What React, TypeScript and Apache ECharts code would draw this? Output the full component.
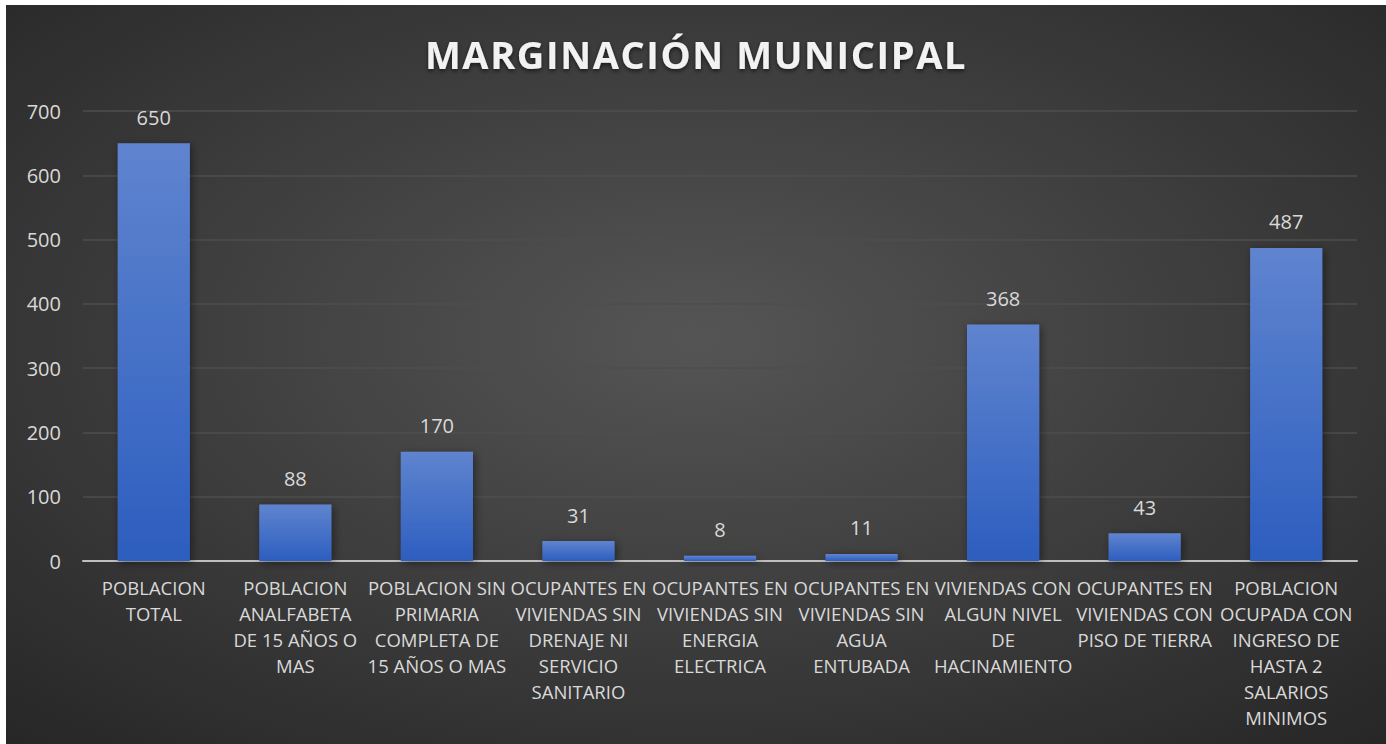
import React, { useEffect, useRef } from "react";
import * as echarts from "echarts";

const categories = [
  "POBLACION\nTOTAL",
  "POBLACION\nANALFABETA\nDE 15 AÑOS O\nMAS",
  "POBLACION SIN\nPRIMARIA\nCOMPLETA DE\n15 AÑOS O MAS",
  "OCUPANTES EN\nVIVIENDAS SIN\nDRENAJE NI\nSERVICIO\nSANITARIO",
  "OCUPANTES EN\nVIVIENDAS SIN\nENERGIA\nELECTRICA",
  "OCUPANTES EN\nVIVIENDAS SIN\nAGUA\nENTUBADA",
  "VIVIENDAS CON\nALGUN NIVEL\nDE\nHACINAMIENTO",
  "OCUPANTES EN\nVIVIENDAS CON\nPISO DE TIERRA",
  "POBLACION\nOCUPADA CON\nINGRESO DE\nHASTA 2\nSALARIOS\nMINIMOS",
];
const values = [650, 88, 170, 31, 8, 11, 368, 43, 487];
const title = "MARGINACIÓN MUNICIPAL";

export default function App() {
  const ref = useRef<HTMLDivElement>(null);
  useEffect(() => {
    document.body.style.margin = "0";
    document.body.style.background = "#ffffff";
    const styleEl = document.createElement("style");
    styleEl.textContent = 'text[style*="38px"] { letter-spacing: 1.6px; }';
    document.head.appendChild(styleEl);
    const chart = echarts.init(ref.current!, undefined, { renderer: "svg" });
    const font = "'Open Sans', 'Noto Sans', sans-serif";
    chart.setOption({
      animation: false,
      backgroundColor: {
        type: "radial",
        x: 0.5,
        y: 0.45,
        r: 0.75,
        colorStops: [
          { offset: 0, color: "#555555" },
          { offset: 1, color: "#262626" },
        ],
      },
      title: {
        text: title,
        left: "center",
        top: 25,
        textStyle: {
          color: "#f2f2f2",
          fontSize: 38,
          fontWeight: "bold",
          fontFamily: font,
          textShadowColor: "rgba(0,0,0,0.6)",
          textShadowBlur: 4,
          textShadowOffsetY: 2,
        },
      },
      grid: { left: 77, right: 29, top: 106, bottom: 183 },
      xAxis: {
        type: "category",
        data: categories,
        axisLine: { lineStyle: { color: "#bfbfbf", width: 2 } },
        axisTick: { show: false },
        axisLabel: {
          color: "#d9d9d9",
          fontSize: 18.5,
          fontFamily: font,
          lineHeight: 26,
          margin: 13,
          interval: 0,
          align: "center",
        },
      },
      yAxis: {
        type: "value",
        min: 0,
        max: 700,
        interval: 100,
        axisLine: { show: false },
        axisTick: { show: false },
        splitLine: { lineStyle: { color: "#4e4e4e", width: 1.5 } },
        axisLabel: {
          color: "#d9d9d9",
          fontSize: 20,
          fontFamily: font,
          margin: 22,
        },
      },
      series: [
        {
          type: "bar",
          data: values,
          barWidth: "51%",
          itemStyle: {
            color: {
              type: "linear",
              x: 0,
              y: 0,
              x2: 0,
              y2: 1,
              colorStops: [
                { offset: 0, color: "#5f84cf" },
                { offset: 1, color: "#2d5ebf" },
              ],
            },
            shadowColor: "rgba(0,0,0,0.45)",
            shadowBlur: 8,
            shadowOffsetX: 2,
            shadowOffsetY: 2,
          },
          label: {
            show: true,
            position: "top",
            distance: 16,
            color: "#d9d9d9",
            fontSize: 20,
            fontFamily: font,
          },
        },
      ],
    });
    return () => {
      chart.dispose();
      styleEl.remove();
    };
  }, []);
  return (
    <div
      ref={ref}
      style={{ position: "absolute", left: 6, top: 5, width: 1380, height: 739 }}
    />
  );
}
